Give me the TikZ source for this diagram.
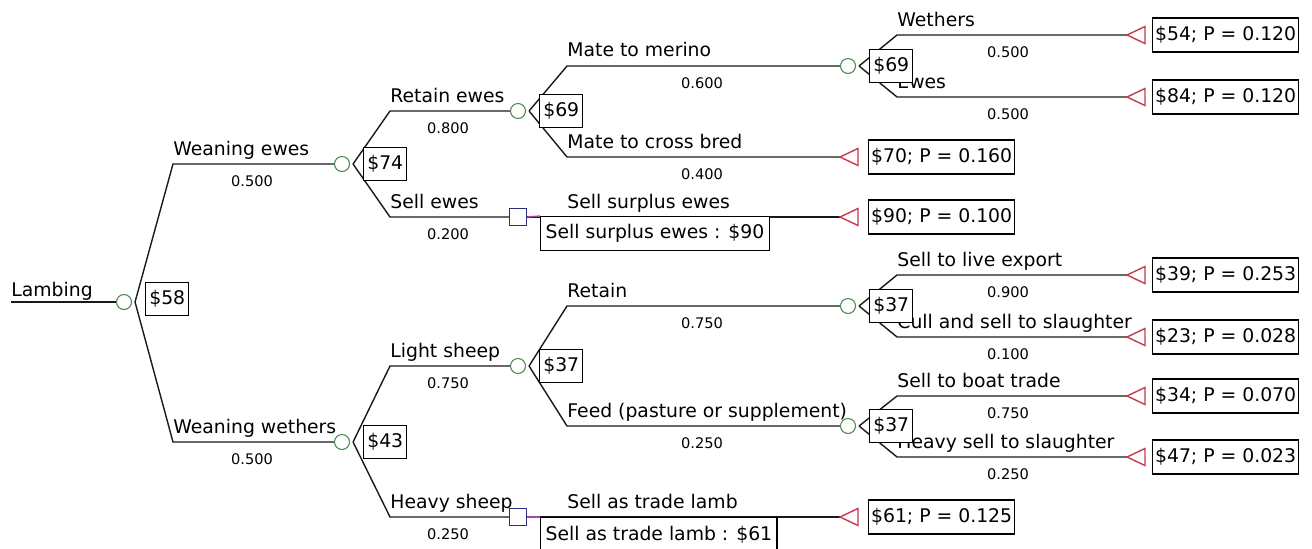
\documentclass[tikz,border=0pt]{standalone}
\usepackage{fontspec}
\setmainfont{DejaVu Sans}
\usetikzlibrary{calc}
\definecolor{chancegreen}{HTML}{4E8E4E}
\definecolor{decblue}{HTML}{2E2E86}
\definecolor{termred}{HTML}{C8384E}
\definecolor{linkpurple}{HTML}{A048A8}
\newcommand{\brsize}{\fontsize{9.4}{11}\selectfont}
\newcommand{\prsize}{\fontsize{7.3}{9}\selectfont}

\begin{document}
\begin{tikzpicture}[x=0.5pt,y=-0.5pt,
  chance/.style={circle,draw=chancegreen,line width=0.55pt,minimum size=7.5pt,inner sep=0pt},
  decision/.style={rectangle,draw=decblue,line width=0.7pt,minimum size=8.5pt,inner sep=0pt},
  branch/.style={line width=0.7pt,black!90},
  link/.style={line width=0.7pt,linkpurple},
  endtri/.style={line width=0.7pt,draw=termred},
  brlabel/.style={anchor=base west,font=\brsize,inner sep=0pt},
  prob/.style={font=\prsize,inner sep=0pt},
  valbox/.style={draw,fill=white,line width=0.7pt,inner xsep=1.8pt,minimum height=16.5pt,anchor=west,font=\brsize},
  payoff/.style={draw,fill=white,line width=0.7pt,inner xsep=1.2pt,minimum height=17pt,anchor=west,font=\brsize},
  declbox/.style={draw,fill=white,line width=0.7pt,inner xsep=2.5pt,minimum height=17pt,anchor=north west,font=\brsize}]

\useasboundingbox (0,0) rectangle (1312,548);

% chance and decision nodes
\node[chance] (lambing) at (124,302) {};
\node[chance] (wewes) at (342,164) {};
\node[chance] (wweth) at (342,442) {};
\node[chance] (retewes) at (518,111) {};
\node[chance] (light) at (518,366) {};
\node[chance] (merino) at (848,66) {};
\node[chance] (retain) at (848,306) {};
\node[chance] (feed) at (848,426) {};
\node[decision] (sellewes) at (518,217) {};
\node[decision] (heavy) at (518,517) {};

% end points
\coordinate (start) at (11,302);
\coordinate (tWeth) at (1127,35);
\coordinate (tEwes) at (1127,97);
\coordinate (tCross) at (840,157);
\coordinate (tSurp) at (840,217);
\coordinate (tLive) at (1127,275);
\coordinate (tCull) at (1127,337);
\coordinate (tBoat) at (1127,396);
\coordinate (tHvy) at (1127,457);
\coordinate (tLamb) at (840,517);

% branches
\draw[branch] (start) -- (lambing);
\foreach \from/\cx/\to in {lambing/173/wewes, lambing/173/wweth,
    wewes/390/retewes, wewes/390/sellewes, wweth/390/light, wweth/390/heavy,
    retewes/567/merino, retewes/567/tCross, light/567/retain, light/567/feed,
    merino/897/tWeth, merino/897/tEwes, retain/897/tLive, retain/897/tCull,
    feed/897/tBoat, feed/897/tHvy}
  \draw[branch] ($(\from.east)+(3,0)$) -- (\cx,0 |- \to) -- (\to);
\draw[branch] (sellewes) -- (tSurp);
\draw[branch] (heavy) -- (tLamb);

\foreach \t in {tWeth,tEwes,tCross,tSurp,tLive,tCull,tBoat,tHvy,tLamb}
  \draw[endtri] (\t) -- ++(18,-8.5) -- ++(0,17) -- cycle;

% branch names
\node[brlabel] (lLamb) at (11,296) {Lambing};
\node[brlabel] (lWE) at (173,155) {Weaning ewes};
\node[brlabel] (lWW) at (173,433) {Weaning wethers};
\node[brlabel] (lRE) at (390,102) {Retain ewes};
\node[brlabel] (lSE) at (390,208) {Sell ewes};
\node[brlabel] (lLS) at (390,357) {Light sheep};
\node[brlabel] (lHS) at (390,508) {Heavy sheep};
\node[brlabel] (lMM) at (567,56) {Mate to merino};
\node[brlabel] (lMC) at (567,148) {Mate to cross bred};
\node[brlabel] (lSS) at (567,208) {Sell surplus ewes};
\node[brlabel] (lRt) at (567,297) {Retain};
\node[brlabel] (lFd) at (567,417) {Feed (pasture or supplement)};
\node[brlabel] (lTL) at (567,508) {Sell as trade lamb};
\node[brlabel] (lWt) at (897,26) {Wethers};
\node[brlabel] (lEw) at (897,88) {Ewes};
\node[brlabel] (lLE) at (897,266) {Sell to live export};
\node[brlabel] (lCu) at (897,328) {Cull and sell to slaughter};
\node[brlabel] (lBT) at (897,387) {Sell to boat trade};
\node[brlabel] (lHv) at (897,448) {Heavy sell to slaughter};

% probabilities
\node[prob] (pWE) at (252,181) {0.500};
\node[prob] (pWW) at (252,459) {0.500};
\node[prob] (pRE) at (448,128) {0.800};
\node[prob] (pSE) at (448,234) {0.200};
\node[prob] (pLS) at (448,383) {0.750};
\node[prob] (pHS) at (448,534) {0.250};
\node[prob] (pMM) at (702,83) {0.600};
\node[prob] (pMC) at (702,174) {0.400};
\node[prob] (pRt) at (702,323) {0.750};
\node[prob] (pFd) at (702,443) {0.250};
\node[prob] (pWt) at (1008,52) {0.500};
\node[prob] (pEw) at (1008,114) {0.500};
\node[prob] (pLE) at (1008,292) {0.900};
\node[prob] (pCu) at (1008,354) {0.100};
\node[prob] (pBT) at (1008,413) {0.750};
\node[prob] (pHv) at (1008,474) {0.250};

% expected values
\node[valbox] (vLamb) at (145,299) {\$58};
\node[valbox] (vWE) at (363,164) {\$74};
\node[valbox] (vWW) at (363,442) {\$43};
\node[valbox] (vRE) at (539,111) {\$69};
\node[valbox] (vLS) at (539,366) {\$37};
\node[valbox] (vMM) at (869,66) {\$69};
\node[valbox] (vRt) at (869,306) {\$37};
\node[valbox] (vFd) at (869,426) {\$37};

% decisions
\node[declbox] (dSE) at (540,216) {Sell surplus ewes : \$90};
\node[declbox] (dHS) at (540,517) {Sell as trade lamb : \$61};
\draw[link] (sellewes.east) -- (dSE.north west);
\draw[link] (heavy.east) -- (dHS.north west);

% payoffs
\node[payoff] (oWeth) at (1152,35) {\$54; P = 0.120};
\node[payoff] (oEwes) at (1152,97) {\$84; P = 0.120};
\node[payoff] (oCross) at (868,157) {\$70; P = 0.160};
\node[payoff] (oSurp) at (868,217) {\$90; P = 0.100};
\node[payoff] (oLive) at (1152,275) {\$39; P = 0.253};
\node[payoff] (oCull) at (1152,337) {\$23; P = 0.028};
\node[payoff] (oBoat) at (1152,396) {\$34; P = 0.070};
\node[payoff] (oHvy) at (1152,457) {\$47; P = 0.023};
\node[payoff] (oLamb) at (868,517) {\$61; P = 0.125};
\end{tikzpicture}
\end{document}
